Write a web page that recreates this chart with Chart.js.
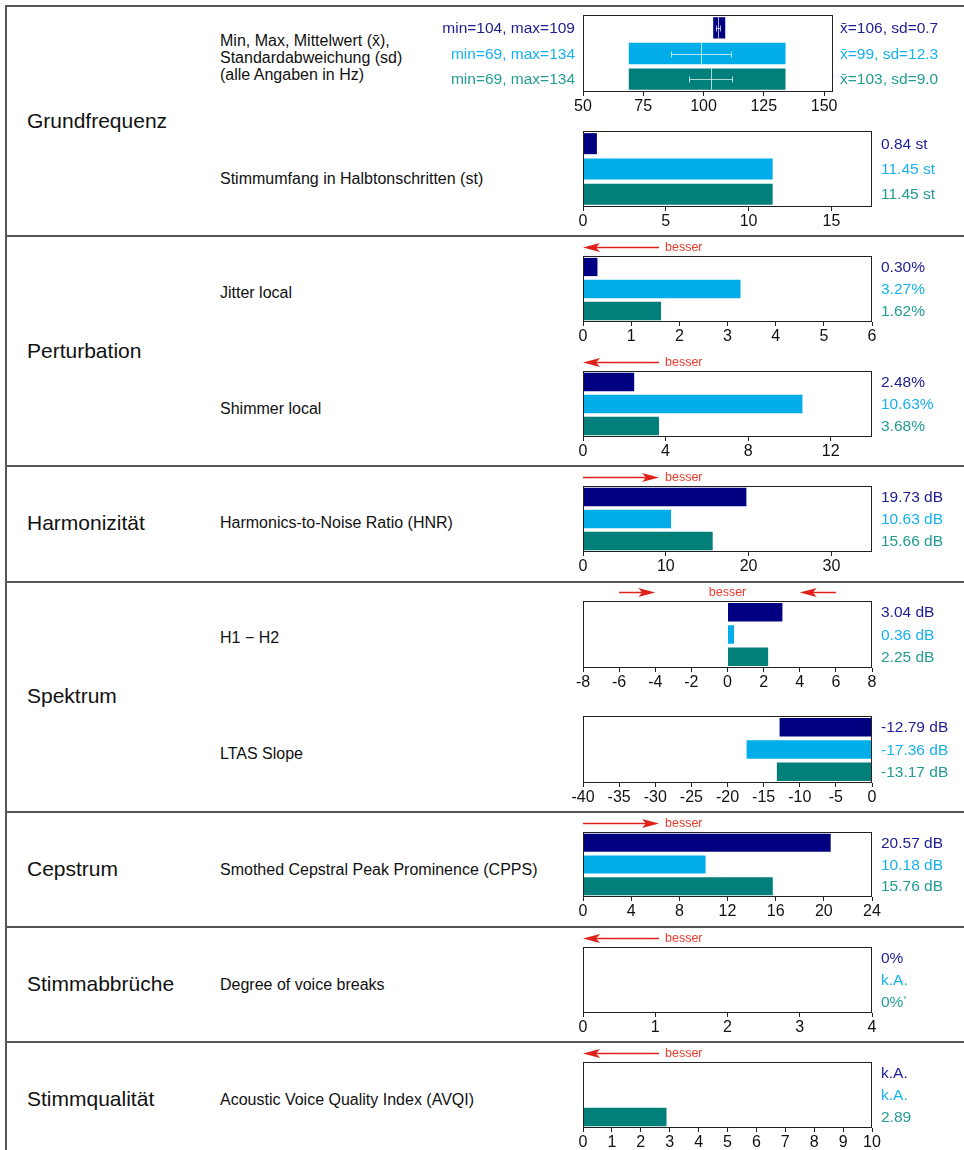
<!DOCTYPE html>
<html>
<head>
<meta charset="utf-8">
<script src="https://cdn.jsdelivr.net/npm/chart.js@4.4.0/dist/chart.umd.min.js"></script>
<style>
  body { margin: 0; background: #fff; font-family: "Liberation Sans", Arial, sans-serif; }
  #page { position: relative; width: 964px; height: 1150px; overflow: hidden; }
  .hline { position: absolute; left: 5px; right: 0; height: 2px; background: #555; }
  .vline { position: absolute; left: 5px; top: 5px; bottom: 0; width: 2px; background: #555; }
  .sec { position: absolute; left: 27px; font-size: 21px; color: #111; transform: translateY(-50%); white-space: nowrap; }
  .sub { position: absolute; left: 220px; font-size: 16px; line-height: 17px; color: #111; transform: translateY(-50%); white-space: nowrap; }
  .val { position: absolute; font-size: 15.5px; transform: translateY(-50%); white-space: nowrap; }
  .val.left { text-align: right; }
  canvas { position: absolute; }
</style>
</head>
<body>
<div id="page"></div>
<script>
// Drei Aufnahmen pro Messgröße
const groups = ['Aufnahme 1', 'Aufnahme 2', 'Aufnahme 3'];
const barColors = ['#000080', '#00ADE9', '#007F7B'];
const textColors = ['#1d1d92', '#17b1ec', '#239c94'];

// Grundfrequenz (Hz)
const f0Min = [104, 69, 69];
const f0Max = [109, 134, 134];
const f0Mean = [106, 99, 103];
const f0Sd = [0.7, 12.3, 9.0];
const f0Ticks = [50, 75, 100, 125, 150];

// Stimmumfang (st)
const rangeSt = [0.84, 11.45, 11.45];
const rangeTicks = [0, 5, 10, 15];

// Perturbation (%)
const jitter = [0.30, 3.27, 1.62];
const jitterTicks = [0, 1, 2, 3, 4, 5, 6];
const shimmer = [2.48, 10.63, 3.68];
const shimmerTicks = [0, 4, 8, 12];

// Harmonizität (dB)
const hnr = [19.73, 10.63, 15.66];
const hnrTicks = [0, 10, 20, 30];

// Spektrum (dB)
const h1h2 = [3.04, 0.36, 2.25];
const h1h2Ticks = [-8, -6, -4, -2, 0, 2, 4, 6, 8];
const ltas = [-12.79, -17.36, -13.17];
const ltasTicks = [-40, -35, -30, -25, -20, -15, -10, -5, 0];

// Cepstrum (dB)
const cpps = [20.57, 10.18, 15.76];
const cppsTicks = [0, 4, 8, 12, 16, 20, 24];

// Stimmabbrüche (%), null = keine Angabe
const voiceBreaks = [0, null, 0];
const breaksTicks = [0, 1, 2, 3, 4];

// Stimmqualität
const avqi = [null, null, 2.89];
const avqiTicks = [0, 1, 2, 3, 4, 5, 6, 7, 8, 9, 10];

// Tabellentexte
const sections = ['Grundfrequenz', 'Perturbation', 'Harmonizität', 'Spektrum', 'Cepstrum', 'Stimmabbrüche', 'Stimmqualität'];
const measures = [
  'Min, Max, Mittelwert (x̄),<br>Standardabweichung (sd)<br>(alle Angaben in Hz)',
  'Stimmumfang in Halbtonschritten (st)',
  'Jitter local',
  'Shimmer local',
  'Harmonics-to-Noise Ratio (HNR)',
  'H1 − H2',
  'LTAS Slope',
  'Smothed Cepstral Peak Prominence (CPPS)',
  'Degree of voice breaks',
  'Acoustic Voice Quality Index (AVQI)'
];

// Layout
const sectionY = [121, 351, 523, 696, 869, 984, 1099];
const measureY = [57, 178, 292, 408, 522, 637, 753, 869, 984, 1099];
const separatorY = [235, 465, 581, 811, 926, 1041];
const PLOT_LEFT = 583;
const PAD_L = 30, PAD_R = 30, PAD_T = 18, AXIS_H = 24;
const FONT = '"Liberation Sans", Arial, sans-serif';

const page = document.getElementById('page');

function addDiv(cls, html, style) {
  const d = document.createElement('div');
  d.className = cls;
  d.innerHTML = html;
  Object.assign(d.style, style);
  page.appendChild(d);
  return d;
}

// Tabellenrahmen
addDiv('hline', '', { top: '5px' });
addDiv('vline', '', {});
separatorY.forEach(y => addDiv('hline', '', { top: y + 'px' }));
sections.forEach((s, i) => addDiv('sec', s, { top: sectionY[i] + 'px' }));
measures.forEach((s, i) => addDiv('sub', s, { top: measureY[i] + 'px' }));

/**
 * Rahmen um die Plotfläche
 */
const framePlugin = {
  id: 'frame',
  afterDatasetsDraw(chart) {
    const { ctx, chartArea: a } = chart;
    ctx.save();
    ctx.strokeStyle = '#222';
    ctx.lineWidth = 1;
    ctx.strokeRect(a.left + 0.5, a.top + 0.5, a.width - 1, a.height - 1);
    ctx.restore();
  }
};

/**
 * Pfeil "besser" oberhalb der Plotfläche
 */
function drawArrow(ctx, tail, tip, y) {
  const d = tip > tail ? 1 : -1;
  ctx.beginPath();
  ctx.moveTo(tail, y);
  ctx.lineTo(tip - d * 12, y);
  ctx.stroke();
  ctx.beginPath();
  ctx.moveTo(tip, y);
  ctx.lineTo(tip - d * 17, y - 4.5);
  ctx.lineTo(tip - d * 13, y);
  ctx.lineTo(tip - d * 17, y + 4.5);
  ctx.closePath();
  ctx.fill();
}

const arrowPlugin = {
  id: 'besser',
  afterDraw(chart, args, opts) {
    if (!opts.dir) return;
    const { ctx, chartArea: a } = chart;
    const xs = chart.scales.x;
    const y = a.top - 8.5;
    ctx.save();
    ctx.strokeStyle = '#e0201a';
    ctx.fillStyle = '#e0201a';
    ctx.lineWidth = 1.5;
    let textX, align = 'left';
    if (opts.dir === 'left') {
      drawArrow(ctx, a.left + 76, a.left, y);
      textX = a.left + 82;
    } else if (opts.dir === 'right') {
      drawArrow(ctx, a.left, a.left + 76, y);
      textX = a.left + 82;
    } else {
      drawArrow(ctx, xs.getPixelForValue(-6), xs.getPixelForValue(-4), y);
      drawArrow(ctx, xs.getPixelForValue(6), xs.getPixelForValue(4), y);
      textX = xs.getPixelForValue(0);
      align = 'center';
    }
    ctx.fillStyle = '#ea3b2e';
    ctx.font = '12.5px ' + FONT;
    ctx.textAlign = align;
    ctx.textBaseline = 'middle';
    ctx.fillText('besser', textX, y);
    ctx.restore();
  }
};

/**
 * Mittelwert und Standardabweichung über den Min/Max-Balken
 */
const sdPlugin = {
  id: 'sdBars',
  afterDatasetsDraw(chart) {
    const ctx = chart.ctx, xs = chart.scales.x;
    const meta = chart.getDatasetMeta(0);
    ctx.save();
    ctx.strokeStyle = 'rgba(255, 255, 255, 0.7)';
    ctx.lineWidth = 1;
    meta.data.forEach((bar, i) => {
      const y = Math.round(bar.y) + 0.5;
      const half = bar.height / 2;
      const xl = Math.round(xs.getPixelForValue(f0Mean[i] - f0Sd[i])) + 0.5;
      const xr = Math.round(xs.getPixelForValue(f0Mean[i] + f0Sd[i])) + 0.5;
      const xm = Math.round(xs.getPixelForValue(f0Mean[i])) + 0.5;
      ctx.beginPath();
      ctx.moveTo(xl, y); ctx.lineTo(xr, y);
      ctx.moveTo(xl, y - 3); ctx.lineTo(xl, y + 3);
      ctx.moveTo(xr, y - 3); ctx.lineTo(xr, y + 3);
      ctx.moveTo(xm, bar.y - half); ctx.lineTo(xm, bar.y + half);
      ctx.stroke();
    });
    ctx.restore();
  }
};

/**
 * Ein kleines horizontales Balkendiagramm
 */
function makeChart(cfg) {
  const w = cfg.plotW + PAD_L + PAD_R;
  const h = cfg.plotH + PAD_T + AXIS_H;
  const canvas = document.createElement('canvas');
  canvas.width = w;
  canvas.height = h;
  canvas.style.left = (PLOT_LEFT - PAD_L) + 'px';
  canvas.style.top = (cfg.top - PAD_T) + 'px';
  canvas.style.width = w + 'px';
  canvas.style.height = h + 'px';
  page.appendChild(canvas);

  const plugins = [framePlugin, arrowPlugin];
  if (cfg.sd) plugins.push(sdPlugin);

  const chart = new Chart(canvas, {
    type: 'bar',
    data: {
      labels: groups,
      datasets: [{
        data: cfg.values,
        backgroundColor: barColors,
        borderWidth: 0,
        barPercentage: 0.83,
        categoryPercentage: 1,
        minBarLength: cfg.minBar || 0
      }]
    },
    options: {
      indexAxis: 'y',
      responsive: false,
      animation: false,
      devicePixelRatio: 1,
      layout: { padding: { left: PAD_L, right: PAD_R, top: PAD_T, bottom: 0 } },
      plugins: {
        legend: { display: false },
        tooltip: { enabled: false },
        besser: { dir: cfg.arrow || null }
      },
      scales: {
        y: { display: false },
        x: {
          min: cfg.min,
          max: cfg.max,
          afterBuildTicks: s => { s.ticks = cfg.ticks.map(v => ({ value: v })); },
          afterFit: s => { s.height = AXIS_H; },
          grid: { drawOnChartArea: false, drawTicks: true, tickLength: 4, color: '#222' },
          border: { display: false },
          ticks: {
            autoSkip: false,
            maxRotation: 0,
            padding: 1,
            color: '#111',
            font: { family: FONT, size: 16 }
          }
        }
      }
    },
    plugins: plugins
  });

  // Werte rechts neben dem Diagramm
  const ys = chart.scales.y;
  const canvasTop = cfg.top - PAD_T;
  const rightX = PLOT_LEFT + cfg.plotW + (cfg.sd ? 7 : 9);
  cfg.rightLabels.forEach((t, i) => {
    addDiv('val', t, {
      left: rightX + 'px',
      top: (canvasTop + ys.getPixelForValue(i)) + 'px',
      color: textColors[i]
    });
  });
  if (cfg.leftLabels) {
    cfg.leftLabels.forEach((t, i) => {
      addDiv('val left', t, {
        right: (964 - PLOT_LEFT + 8) + 'px',
        top: (canvasTop + ys.getPixelForValue(i)) + 'px',
        color: textColors[i]
      });
    });
  }
  return chart;
}

const fmt = (arr, unit) => arr.map(v => v === null ? 'k.A.' : v.toFixed(2) + unit);

makeChart({
  top: 15, plotH: 77, plotW: 250, min: 50, max: 153.7, ticks: f0Ticks, sd: true,
  values: f0Min.map((m, i) => [m, f0Max[i]]),
  leftLabels: f0Min.map((m, i) => `min=${m}, max=${f0Max[i]}`),
  rightLabels: f0Mean.map((m, i) => `x̄=${m}, sd=${f0Sd[i].toFixed(1)}`)
});
makeChart({
  top: 131, plotH: 76, plotW: 289, min: 0, max: 17.45, ticks: rangeTicks,
  values: rangeSt, rightLabels: fmt(rangeSt, ' st')
});
makeChart({
  top: 256, plotH: 66, plotW: 289, min: 0, max: 6, ticks: jitterTicks, arrow: 'left',
  values: jitter, rightLabels: fmt(jitter, '%')
});
makeChart({
  top: 371, plotH: 66, plotW: 289, min: 0, max: 14, ticks: shimmerTicks, arrow: 'left',
  values: shimmer, rightLabels: fmt(shimmer, '%')
});
makeChart({
  top: 486, plotH: 66, plotW: 289, min: 0, max: 34.9, ticks: hnrTicks, arrow: 'right',
  values: hnr, rightLabels: fmt(hnr, ' dB')
});
makeChart({
  top: 601, plotH: 67, plotW: 289, min: -8, max: 8, ticks: h1h2Ticks, arrow: 'both',
  values: h1h2, rightLabels: fmt(h1h2, ' dB')
});
makeChart({
  top: 716, plotH: 67, plotW: 289, min: -40, max: 0, ticks: ltasTicks,
  values: ltas, rightLabels: fmt(ltas, ' dB')
});
makeChart({
  top: 832, plotH: 65, plotW: 289, min: 0, max: 24, ticks: cppsTicks, arrow: 'right',
  values: cpps, rightLabels: fmt(cpps, ' dB')
});
makeChart({
  top: 947, plotH: 66, plotW: 289, min: 0, max: 4, ticks: breaksTicks, arrow: 'left', minBar: 1,
  values: voiceBreaks,
  rightLabels: voiceBreaks.map((v, i) => v === null ? 'k.A.' : v + '%' + (i === 2 ? '<sup style="font-size:8px;vertical-align:6px">*</sup>' : ''))
});
makeChart({
  top: 1062, plotH: 66, plotW: 289, min: 0, max: 10, ticks: avqiTicks, arrow: 'left',
  values: avqi, rightLabels: avqi.map(v => v === null ? 'k.A.' : v.toFixed(2))
});
</script>
</body>
</html>
